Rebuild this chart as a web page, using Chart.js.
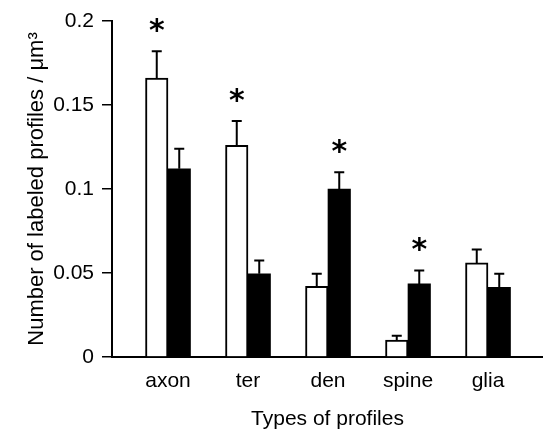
<!DOCTYPE html>
<html>
<head>
<meta charset="utf-8">
<script src="https://cdn.jsdelivr.net/npm/chart.js@4/dist/chart.umd.min.js"></script>
<style>
  html, body { margin: 0; padding: 0; background: #fff; }
  #wrap { width: 543px; height: 432px; }
</style>
</head>
<body>
<div id="wrap"><canvas id="grafico"></canvas></div>
<script>
// datos
var categorias = ["axon", "ter", "den", "spine", "glia"];
var valoresBlancos = [0.166, 0.126, 0.042, 0.010, 0.056];
var erroresBlancos = [0.016, 0.0145, 0.0075, 0.0027, 0.008];
var valoresNegros = [0.112, 0.0495, 0.100, 0.0435, 0.0415];
var erroresNegros = [0.012, 0.008, 0.010, 0.008, 0.008];
// barra con asterisco: 0 = blanca, 1 = negra, -1 = ninguna
var asteriscos = [0, 0, 1, 1, -1];
var etiquetasY = ["0", "0.05", "0.1", "0.15", "0.2"];

var fuente = "'Liberation Sans', Arial, Helvetica, sans-serif";

function puntos(valores) {
    return valores.map(function (v, i) { return { x: i, y: v } })
}

var barrasError = {
    id: "barrasError",
    afterDatasetsDraw: function (chart) {
        var ctx = chart.ctx;
        var ys = chart.scales.y;
        var errores = [erroresBlancos, erroresNegros];
        ctx.save();
        ctx.strokeStyle = "#000";
        ctx.lineWidth = 2;
        chart.data.datasets.forEach(function (ds, d) {
            var meta = chart.getDatasetMeta(d);
            meta.data.forEach(function (bar, i) {
                var arriba = ys.getPixelForValue(ds.data[i].y + errores[d][i]);
                ctx.beginPath();
                ctx.moveTo(bar.x, bar.y);
                ctx.lineTo(bar.x, arriba);
                ctx.moveTo(bar.x - 5, arriba);
                ctx.lineTo(bar.x + 5, arriba);
                ctx.stroke();
                if (asteriscos[i] === d) {
                    ctx.fillStyle = "#000";
                    ctx.font = "bold 30px 'DejaVu Sans'";
                    ctx.textAlign = "center";
                    ctx.textBaseline = "alphabetic";
                    ctx.fillText("*", bar.x, arriba - 25 + 14);
                }
            })
        })
        ctx.restore();
    }
}

new Chart(document.getElementById("grafico"), {
    type: "bar",
    data: {
        datasets: [{
            label: "blanco",
            data: puntos(valoresBlancos),
            backgroundColor: "#fff",
            borderColor: "#000",
            borderWidth: 2,
            borderSkipped: "bottom"
        }, {
            label: "negro",
            data: puntos(valoresNegros),
            backgroundColor: "#000",
            borderColor: "#000",
            borderWidth: 0
        }]
    },
    options: {
        responsive: true,
        maintainAspectRatio: false,
        animation: false,
        barThickness: 22.5,
        layout: { padding: { top: 21, right: 0, left: 0, bottom: 0 } },
        plugins: {
            legend: { display: false },
            tooltip: { enabled: false }
        },
        scales: {
            x: {
                type: "linear",
                offset: false,
                min: -0.7,
                max: 4.6875,
                afterBuildTicks: function (scale) {
                    scale.ticks = categorias.map(function (c, i) { return { value: i } })
                },
                afterFit: function (scale) { scale.height = 75 },
                grid: { display: false, drawTicks: false },
                border: { display: true, color: "#000", width: 2 },
                ticks: {
                    color: "#000",
                    padding: 12,
                    maxRotation: 0,
                    font: { family: fuente, size: 21 },
                    callback: function (v) { return categorias[v] }
                },
                title: {
                    display: true,
                    text: "Types of profiles",
                    color: "#000",
                    padding: { top: 0, bottom: 0 },
                    font: { family: fuente, size: 21 }
                }
            },
            y: {
                min: 0,
                max: 0.2,
                afterFit: function (scale) { scale.width = 112 },
                afterBuildTicks: function (scale) {
                    scale.ticks = etiquetasY.map(function (t) { return { value: parseFloat(t) } })
                },
                grid: {
                    drawOnChartArea: false,
                    drawTicks: true,
                    tickLength: 10,
                    color: "#000",
                    lineWidth: 1.5
                },
                border: { display: true, color: "#000", width: 2 },
                ticks: {
                    color: "#000",
                    padding: 8,
                    font: { family: fuente, size: 21 },
                    callback: function (v, i) { return etiquetasY[i] }
                },
                title: {
                    display: true,
                    text: "Number of labeled profiles / μm³",
                    color: "#000",
                    padding: { top: 24, bottom: 0 },
                    font: { family: fuente, size: 22 }
                }
            }
        }
    },
    plugins: [barrasError]
});
</script>
</body>
</html>
